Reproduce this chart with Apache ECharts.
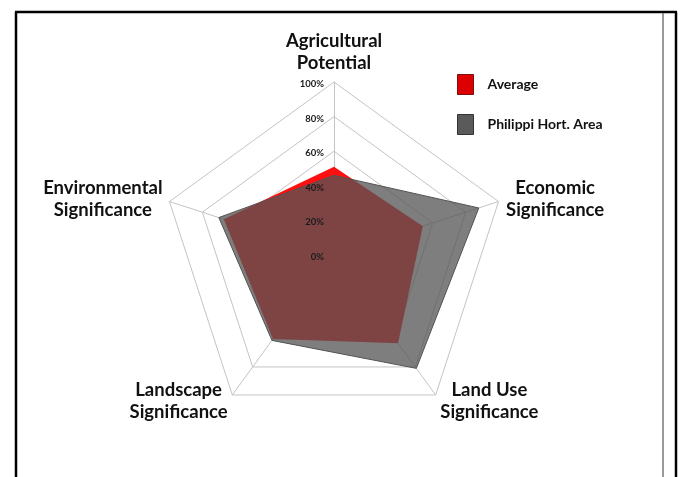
<!DOCTYPE html>
<html>
<head>
<meta charset="utf-8">
<script src="https://cdn.jsdelivr.net/npm/echarts@6/dist/echarts.min.js"></script>
<style>
html, body { margin: 0; padding: 0; background: #fff; }
#chart { width: 680px; height: 477px; }
</style>
</head>
<body>
<div id="chart"></div>
<script>
// axes listed counter-clockwise from the top, the way the radar lays them out
var categories = ['Agricultural\nPotential', 'Environmental\nSignificance', 'Landscape\nSignificance', 'Land Use\nSignificance', 'Economic\nSignificance'];
var average = [51, 67, 60, 63, 54];
var philippi = [46, 70, 61, 81, 88];
var tickLabels = ['0%', '20%', '40%', '60%', '80%', '100%'];
var seriesNames = ['Average', 'Philippi Hort. Area'];

var font = 'Lato, "Open Sans", sans-serif';
var chart = echarts.init(document.getElementById('chart'));

// width of the box each two-line name is centred in (longest line)
var nameBox = [96, 118, 98, 98, 98];

var center = [334, 255];
var radius = 173;

var mainIndicator = categories.map(function (c) {
    return { name: c, min: 0, max: 100 };
});
// second radar on top of the series, only to show the tick labels
var labelIndicator = categories.map(function (c, i) {
    var ind = { name: c, min: 0, max: 100 };
    if (i === 0) {
        ind.axisLabel = {
            show: true,
            fontFamily: font,
            fontWeight: 'bold',
            fontSize: 9.5,
            color: '#1a1a1a',
            margin: 10,
            formatter: function (v) { return tickLabels[Math.round(v / 20)]; }
        };
    }
    return ind;
});

chart.setOption({
    animation: false,
    backgroundColor: '#fff',
    legend: {
        orient: 'vertical',
        left: 452,
        top: 69,
        itemWidth: 16,
        itemHeight: 20,
        itemGap: 19,
        icon: 'rect',
        textStyle: {
            fontFamily: font,
            fontWeight: 'bold',
            fontSize: 14,
            color: '#111',
            padding: [0, 0, 0, 9]
        },
        data: [
            { name: seriesNames[0], itemStyle: { color: '#dd0000', borderColor: '#7a1010', borderWidth: 1 } },
            { name: seriesNames[1], itemStyle: { color: '#5a5a5a', borderColor: '#333', borderWidth: 1 } }
        ]
    },
    radar: [
        {
            center: center,
            radius: radius,
            startAngle: 90,
            shape: 'polygon',
            splitNumber: 5,
            indicator: mainIndicator,
            nameGap: 8,
            axisName: {
                formatter: function (name) {
                    var k = 'n' + categories.indexOf(name);
                    return name.split('\n').map(function (l) { return '{' + k + '|' + l + '}'; }).join('\n');
                },
                rich: (function () {
                    var r = {};
                    nameBox.forEach(function (w, i) {
                        r['n' + i] = {
                            width: w, align: 'center',
                            fontFamily: font, fontWeight: 'bold', fontSize: 18.5,
                            lineHeight: 22, color: '#111'
                        };
                    });
                    return r;
                })()
            },
            axisLine: { lineStyle: { color: '#c4c4c4', width: 1 } },
            splitLine: { lineStyle: { color: '#c4c4c4', width: 1 } },
            splitArea: { show: false },
            axisTick: { show: false }
        },
        {
            z: 10,
            center: [center[0], center[1] + 2],
            radius: radius,
            startAngle: 90,
            shape: 'polygon',
            splitNumber: 5,
            indicator: labelIndicator,
            axisName: { show: false },
            axisLine: { show: false },
            splitLine: { show: false },
            splitArea: { show: false },
            axisTick: { show: false }
        }
    ],
    series: [
        {
            name: seriesNames[0],
            type: 'radar',
            radarIndex: 0,
            symbol: 'none',
            itemStyle: { color: '#dd0000' },
            lineStyle: { width: 0 },
            areaStyle: { color: '#ff1010', opacity: 1 },
            data: [{ value: average, name: seriesNames[0] }]
        },
        {
            name: seriesNames[1],
            type: 'radar',
            radarIndex: 0,
            symbol: 'none',
            itemStyle: { color: '#5a5a5a' },
            lineStyle: { color: '#505050', width: 1 },
            areaStyle: { color: '#555555', opacity: 0.76 },
            data: [{ value: philippi, name: seriesNames[1] }]
        }
    ],
    graphic: [
        // page frame around the figure
        { type: 'line', shape: { x1: 15, y1: 12, x2: 677, y2: 12 }, style: { stroke: '#000', lineWidth: 2.5 } },
        { type: 'line', shape: { x1: 16, y1: 12, x2: 16, y2: 477 }, style: { stroke: '#000', lineWidth: 2.5 } },
        { type: 'line', shape: { x1: 676, y1: 12, x2: 676, y2: 477 }, style: { stroke: '#000', lineWidth: 2.5 } },
        { type: 'line', shape: { x1: 663, y1: 13, x2: 663, y2: 477 }, style: { stroke: '#777', lineWidth: 1.5 } }
    ]
});
</script>
</body>
</html>
